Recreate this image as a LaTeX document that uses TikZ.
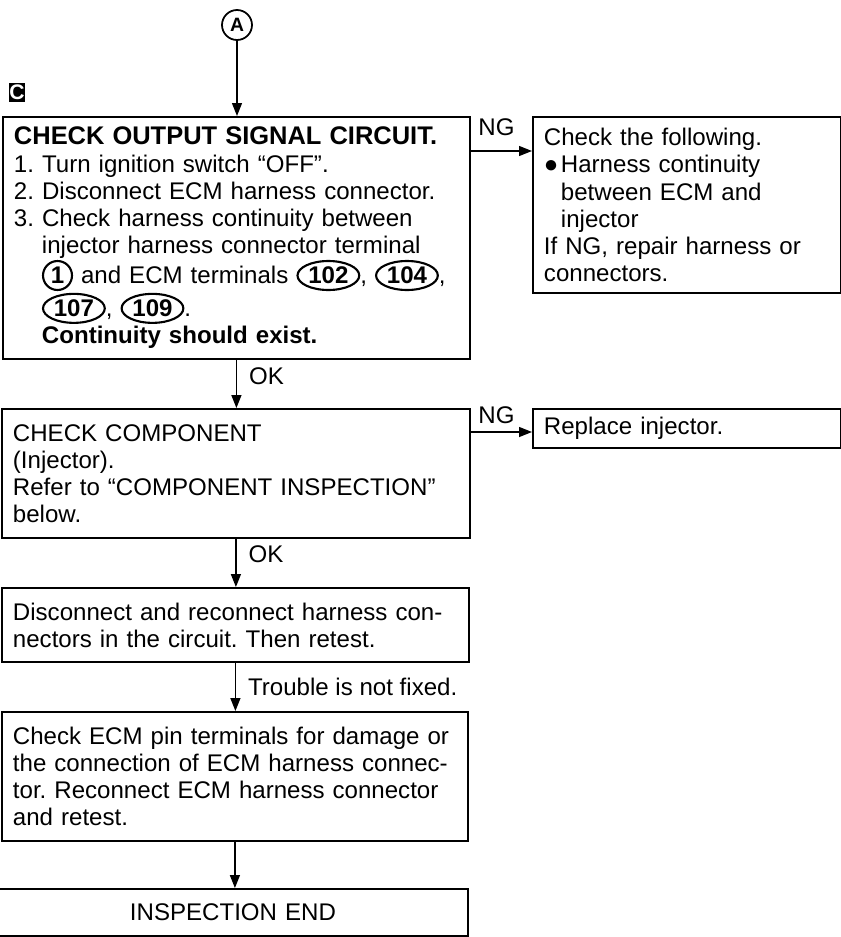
\documentclass[tikz,border=0pt]{standalone}
\usepackage{fontspec}
\setmainfont{Liberation Sans}
\frenchspacing
\usetikzlibrary{arrows.meta,shapes.geometric}

\newcommand{\termno}[1]{\tikz[baseline=(tn.base)]\node[ellipse,draw,line width=1.2pt,inner xsep=1pt,inner ysep=0pt,
  minimum height=0.58cm,minimum width=0.58cm,font=\bfseries] (tn) {#1};}

\begin{document}
\begin{tikzpicture}[x=0.02cm,y=-0.02cm,font=\fontsize{13.7}{15.4}\selectfont,
    box/.style={draw,line width=1.1pt,anchor=north west,align=left,inner xsep=0.22cm,inner ysep=0pt,text width=#1},
    lbl/.style={inner sep=0pt},
    arr/.style={line width=0.8pt,-{Triangle[length=0.26cm,width=0.2cm]}}]
  \useasboundingbox (0,0) rectangle (841,937);
  \node[circle,draw,line width=1pt,minimum size=0.6cm,inner sep=0pt,font=\bfseries\fontsize{11}{11}\selectfont] (A) at (237,25) {A};
  \node[fill=black,text=white,minimum width=0.24cm,minimum height=0.38cm,inner sep=0pt,font=\bfseries\fontsize{12}{12}\selectfont] (C) at (17,92) {C};
  % output signal circuit
  \node[box=8.9cm,minimum height=4.84cm] (chk) at (2,116) {%
    {\fontsize{14.5}{15.4}\selectfont\bfseries CHECK OUTPUT SIGNAL CIRCUIT.}\\
    1. Turn ignition switch “OFF”.\\
    2. Disconnect ECM harness connector.\\
    3. Check harness continuity between\\
    \hspace*{0.56cm}injector harness connector terminal\\
    \hspace*{0.56cm}\termno{1} and ECM terminals \termno{102}, \termno{104},\\
    \hspace*{0.56cm}\termno{107}, \termno{109}.\\
    \hspace*{0.56cm}\textbf{Continuity should exist.}};
  \node[box=5.72cm,minimum height=3.52cm] (follow) at (532,116) {%
    Check the following.\\
    \makebox[0.34cm][l]{●}Harness continuity\\
    \hspace*{0.34cm}between ECM and\\
    \hspace*{0.34cm}injector\\
    If NG, repair harness or\\
    connectors.};
  % component
  \node[box=8.92cm,minimum height=2.58cm] (comp) at (1,408) {%
    CHECK COMPONENT\\
    (Injector).\\
    Refer to “COMPONENT INSPECTION”\\
    below.};
  \node[box=5.72cm,minimum height=0.78cm] (repl) at (532,408) {Replace injector.};
  % retest
  \node[box=8.9cm,minimum height=1.48cm] (reconn) at (1,587) {%
    Disconnect and reconnect harness con-\\
    nectors in the circuit. Then retest.};
  \node[box=8.88cm,minimum height=2.58cm] (ecmpin) at (1,711) {%
    Check ECM pin terminals for damage or\\
    the connection of ECM harness connec-\\
    tor. Reconnect ECM harness connector\\
    and retest.};
  \node[box=8.96cm,minimum height=0.94cm,align=center] (endbox) at (-3,888) {INSPECTION END};
  % arrows
  \draw[arr] (A) -- (A |- chk.north);
  \draw[arr] ([yshift=-0.7cm]chk.north east) -- node[lbl,above=0.3cm,xshift=-0.1cm] {NG} ([yshift=-0.7cm]chk.north east -| follow.west);
  \draw[arr] (chk.south) -- node[lbl,right=0.24cm,pos=0.34] {OK} (chk.south |- comp.north);
  \draw[arr] ([yshift=-0.48cm]comp.north east) -- node[lbl,above=0.15cm,xshift=-0.1cm] {NG} ([yshift=-0.48cm]comp.north east -| repl.west);
  \draw[arr] (comp.south) -- node[lbl,right=0.24cm,pos=0.32] {OK} (comp.south |- reconn.north);
  \draw[arr] (reconn.south) -- node[lbl,right=0.24cm,pos=0.5] {Trouble is not fixed.} (reconn.south |- ecmpin.north);
  \draw[arr] (ecmpin.south) -- (ecmpin.south |- endbox.north);
\end{tikzpicture}
\end{document}
